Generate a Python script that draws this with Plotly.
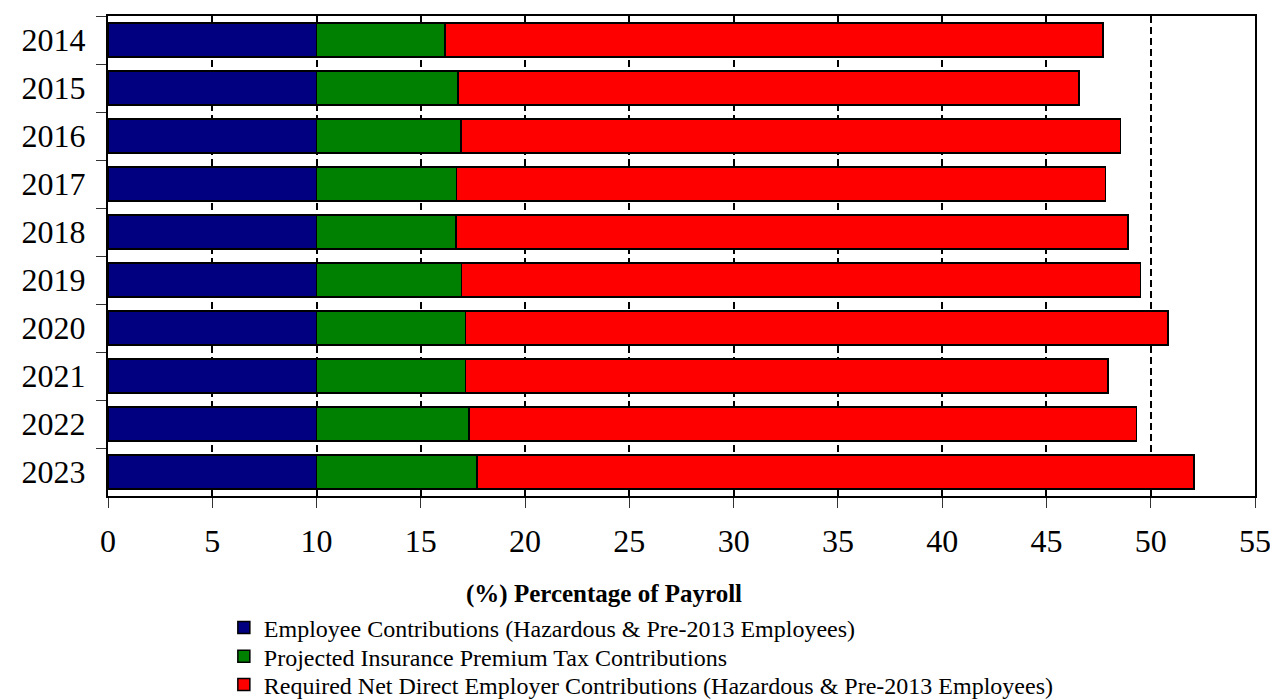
import plotly.graph_objects as go

years = ["2014", "2015", "2016", "2017", "2018", "2019", "2020", "2021", "2022", "2023"]
employee = [10.0, 10.0, 10.0, 10.0, 10.0, 10.0, 10.0, 10.0, 10.0, 10.0]
premium_tax = [6.15, 6.79, 6.92, 6.71, 6.68, 6.95, 7.14, 7.14, 7.32, 7.70]
employer = [31.57, 29.78, 31.64, 31.13, 32.22, 32.57, 33.68, 30.82, 32.00, 34.37]

names = [
    "Employee Contributions (Hazardous & Pre-2013 Employees)",
    "Projected Insurance Premium Tax Contributions",
    "Required Net Direct Employer Contributions (Hazardous & Pre-2013 Employees)",
]
colors = ["#000080", "#008000", "#FF0000"]
series = [employee, premium_tax, employer]
legend_ids = ["legend", "legend2", "legend3"]

fig = go.Figure()
for name, vals, col, lg in zip(names, series, colors, legend_ids):
    fig.add_trace(go.Bar(
        y=years, x=vals, name=name, orientation="h", legend=lg,
        marker=dict(color=col, line=dict(color="black", width=1.5)),
    ))

font_family = "Liberation Serif"
legend_rows_y = [-0.275, -0.3348, -0.3937]


def legend_box(yv):
    return dict(
        x=0.101, y=yv, xanchor="left", yanchor="middle",
        orientation="v",
        font=dict(size=24, family=font_family, color="black"),
        itemwidth=30, bgcolor="rgba(0,0,0,0)", borderwidth=0,
    )


fig.update_layout(
    barmode="stack",
    bargap=0.29,
    width=1278, height=700,
    margin=dict(l=100, r=31, t=8, b=212, autoexpand=False),
    paper_bgcolor="white", plot_bgcolor="white",
    font=dict(family=font_family, color="black"),
    showlegend=True,
    legend=legend_box(legend_rows_y[0]),
    legend2=legend_box(legend_rows_y[1]),
    legend3=legend_box(legend_rows_y[2]),
    xaxis=dict(
        range=[0, 55], dtick=5, tick0=0,
        showgrid=True, gridcolor="black", gridwidth=1.5, griddash="7px,4px",
        showline=True, linecolor="black", linewidth=2, mirror=True,
        ticks="outside", ticklen=10, tickcolor="#333333", tickwidth=1.2,
        ticklabelstandoff=6,
        tickfont=dict(size=32, family=font_family),
        zeroline=False,
    ),
    yaxis=dict(
        autorange="reversed",
        showline=True, linecolor="black", linewidth=2, mirror=True,
        ticks="outside", ticklen=10, tickcolor="#333333", tickwidth=1.2,
        tickson="boundaries", ticklabelstandoff=14,
        tickfont=dict(size=32, family=font_family),
        showgrid=False,
    ),
    annotations=[dict(
        text="<b>(%) Percentage of Payroll</b>",
        xref="paper", yref="paper", x=0.432, y=-0.204,
        xanchor="center", yanchor="middle", showarrow=False,
        font=dict(size=25, family=font_family, color="black"),
    )],
)

fig.write_html("out.html")
